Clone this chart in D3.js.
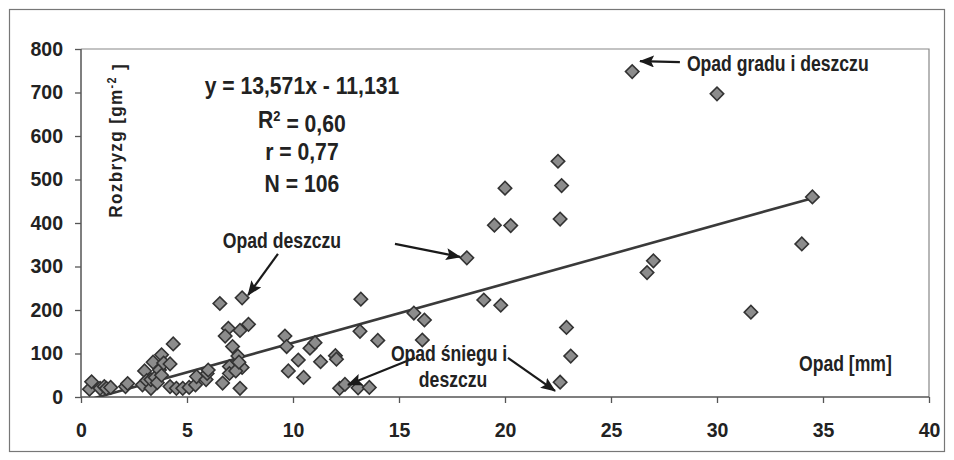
<!DOCTYPE html>
<html>
<head>
<meta charset="utf-8">
<script src="https://cdn.jsdelivr.net/npm/d3@7"></script>
<style>
  body { margin: 0; background: #fff; }
  svg text { font-family: "Liberation Sans", Arial, sans-serif; font-weight: bold; fill: #222; }
</style>
</head>
<body>
<svg></svg>
<script>
// opad [mm] vs rozbryzg [g m^-2]
let opad = [
  0.4, 0.5, 0.9, 1.1, 1.2, 1.4, 2.1, 2.2,
  2.9, 3.0, 3.1, 3.3, 3.3, 3.4, 3.5, 3.6, 3.7, 3.8, 3.8, 3.9, 4.2, 4.35, 4.2, 4.5, 4.8, 5.1, 5.4, 5.45, 5.9, 5.95, 6.0,
  6.55, 7.6, 7.9, 7.5, 6.95, 6.8, 7.15, 7.4, 7.0, 7.6, 7.0, 7.3, 6.68, 7.5, 7.45,
  9.62, 9.7, 9.78, 10.25, 10.5, 10.8, 11.04, 11.3, 12.0, 12.05, 12.2, 12.45,
  13.2, 13.16, 14.0, 13.07, 13.6, 15.7, 16.2, 16.1,
  18.2, 19.0, 19.8, 19.5, 20.27, 20.0, 22.5, 22.67, 22.6, 22.9, 23.1, 22.6,
  26.0, 30.0, 27.0, 26.7, 31.6, 34.0, 34.5
]
let rozbryzg = [
  18, 35, 20, 24, 20, 22, 24, 31,
  28, 60, 38, 20, 40, 80, 45, 33, 62, 97, 50, 78, 76, 122, 24, 20, 20, 22, 28, 47, 40, 54, 62,
  215, 228, 167, 153, 158, 140, 116, 94, 70, 68, 54, 60, 32, 20, 80,
  140, 116, 60, 85, 45, 112, 125, 81, 95, 87, 20, 29,
  225, 151, 130, 21, 22, 193, 177, 131,
  320, 223, 211, 395, 394, 480, 542, 486, 409, 160, 94, 34,
  748, 697, 313, 286, 195, 352, 460
]

let xTicks = [0, 5, 10, 15, 20, 25, 30, 35, 40]
let yTicks = [0, 100, 200, 300, 400, 500, 600, 700, 800]

let slope = 13.571
let intercept = -11.131
let statLines = ['y = 13,571x - 11,131', 'R2 = 0,60', 'r = 0,77', 'N = 106']
let statY = [716, 637, 563, 490]

// annotation arrows in data units: [x1, y1, x2, y2]
let arrows = [
  [28.25, 770, 26.37, 772],
  [9.29, 329, 7.88, 234],
  [14.81, 352, 17.88, 322],
  [15.75, 90, 12.59, 28],
  [20.14, 90, 22.36, 14]
]
let labels = [
  { t: 'Opad gradu i deszczu', x: 28.58, y: 768, a: 'start' },
  { t: 'Opad deszczu', x: 9.48, y: 361, a: 'middle' },
  { t: 'Opad śniegu i', x: 17.36, y: 101, a: 'middle' },
  { t: 'deszczu', x: 17.55, y: 41, a: 'middle' },
  { t: 'Opad [mm]', x: 33.87, y: 78, a: 'start' }
]

let width = 954
let height = 460

let svg = d3.select('svg').attr('width', width).attr('height', height)

let xScale = d3.scaleLinear().domain([0, 40]).range([81, 929])
let yScale = d3.scaleLinear().domain([0, 800]).range([397, 49])

// outer frame
svg.append('rect')
   .attr('x', 9.5).attr('y', 9.5)
   .attr('width', 935).attr('height', 442)
   .attr('fill', 'none').attr('stroke', '#777').attr('stroke-width', 1.2)

// plot area top / right border
svg.append('path')
   .attr('d', `M${xScale(0)},${yScale(800)}H${xScale(40)}V${yScale(0)}`)
   .attr('fill', 'none').attr('stroke', '#888').attr('stroke-width', 1.2)

let xAxis = d3.axisBottom(xScale).tickValues(xTicks).tickSize(6).tickPadding(20).tickFormat(d3.format('d'))
let yAxis = d3.axisLeft(yScale).tickValues(yTicks).tickSize(6).tickPadding(12)

let gx = svg.append('g').attr('transform', `translate(0, ${yScale(0)})`).call(xAxis)
let gy = svg.append('g').attr('transform', `translate(${xScale(0)}, 0)`).call(yAxis)

for (let g of [gx, gy]) {
  g.select('.domain').attr('stroke', '#555').attr('stroke-width', 1.5)
  g.selectAll('.tick line').attr('stroke', '#555').attr('stroke-width', 1.3)
  g.selectAll('.tick text').attr('font-family', null).style('font-size', '19.5px').attr('fill', '#222')
}
gx.select('.domain').attr('d', `M${xScale(0)},0H${xScale(40)}`)
gy.select('.domain').attr('d', `M0,${yScale(0)}V${yScale(800)}`)

// trend line
let clip = svg.append('clipPath').attr('id', 'plot')
clip.append('rect').attr('x', xScale(0)).attr('y', yScale(800))
    .attr('width', xScale(40) - xScale(0)).attr('height', yScale(0) - yScale(800))

let xExt = d3.extent(opad)
svg.append('line')
   .attr('clip-path', 'url(#plot)')
   .attr('x1', xScale(xExt[0])).attr('y1', yScale(slope * xExt[0] + intercept))
   .attr('x2', xScale(xExt[1])).attr('y2', yScale(slope * xExt[1] + intercept))
   .attr('stroke', '#3a3a3a').attr('stroke-width', 2.6)

// points
let diamond = d3.symbol().type(d3.symbolSquare).size(90)
svg.selectAll('.dot')
   .data(opad.map((v, i) => [v, rozbryzg[i]]))
   .enter()
   .append('path')
   .attr('class', 'dot')
   .attr('d', diamond)
   .attr('transform', d => `translate(${xScale(d[0])}, ${yScale(d[1])}) rotate(45)`)
   .attr('fill', '#8c8c8c')
   .attr('stroke', '#333')
   .attr('stroke-width', 1.6)

// arrows
svg.append('defs').append('marker')
   .attr('id', 'head')
   .attr('markerUnits', 'userSpaceOnUse')
   .attr('markerWidth', 16).attr('markerHeight', 12)
   .attr('refX', 14).attr('refY', 6)
   .attr('orient', 'auto')
   .append('path')
   .attr('d', 'M0,0L15,6L0,12L3,6Z')
   .attr('fill', '#1a1a1a')

svg.selectAll('.arrow')
   .data(arrows)
   .enter()
   .append('line')
   .attr('class', 'arrow')
   .attr('x1', d => xScale(d[0])).attr('y1', d => yScale(d[1]))
   .attr('x2', d => xScale(d[2])).attr('y2', d => yScale(d[3]))
   .attr('stroke', '#1a1a1a').attr('stroke-width', 2.2)
   .attr('marker-end', 'url(#head)')

// labels (condensed look: squeeze horizontally)
svg.selectAll('.lab')
   .data(labels)
   .enter()
   .append('text')
   .attr('class', 'lab')
   .attr('transform', d => `translate(${xScale(d.x)}, ${yScale(d.y)}) scale(0.8, 1)`)
   .attr('dy', '0.35em')
   .attr('text-anchor', d => d.a)
   .style('font-size', '22px')
   .text(d => d.t)

// regression stats
let stats = svg.selectAll('.stat')
   .data(statLines)
   .enter()
   .append('text')
   .attr('class', 'stat')
   .attr('transform', (d, i) => `translate(${xScale(10.42)}, ${yScale(statY[i])}) scale(0.92, 1)`)
   .attr('dy', '0.35em')
   .attr('text-anchor', 'middle')
   .style('font-size', '23px')
stats.each(function (d) {
  let t = d3.select(this)
  if (d.startsWith('R2')) {
    t.append('tspan').text('R')
    t.append('tspan').attr('dy', '-0.5em').style('font-size', '14px').text('2')
    t.append('tspan').attr('dy', '0.5em').text(' = 0,60')
  } else {
    t.text(d)
  }
})

// y axis title
let yt = svg.append('text')
   .attr('transform', `translate(${xScale(1.6)}, ${yScale(590)}) rotate(-90) scale(0.9, 1)`)
   .attr('text-anchor', 'middle')
   .attr('dy', '0.35em')
   .style('font-size', '19px')
   .style('letter-spacing', '1.5px')
yt.append('tspan').text('Rozbryzg [gm')
yt.append('tspan').attr('dy', '-0.5em').style('font-size', '12px').text('-2')
yt.append('tspan').attr('dy', '0.5em').text(' ]')
</script>
</body>
</html>
